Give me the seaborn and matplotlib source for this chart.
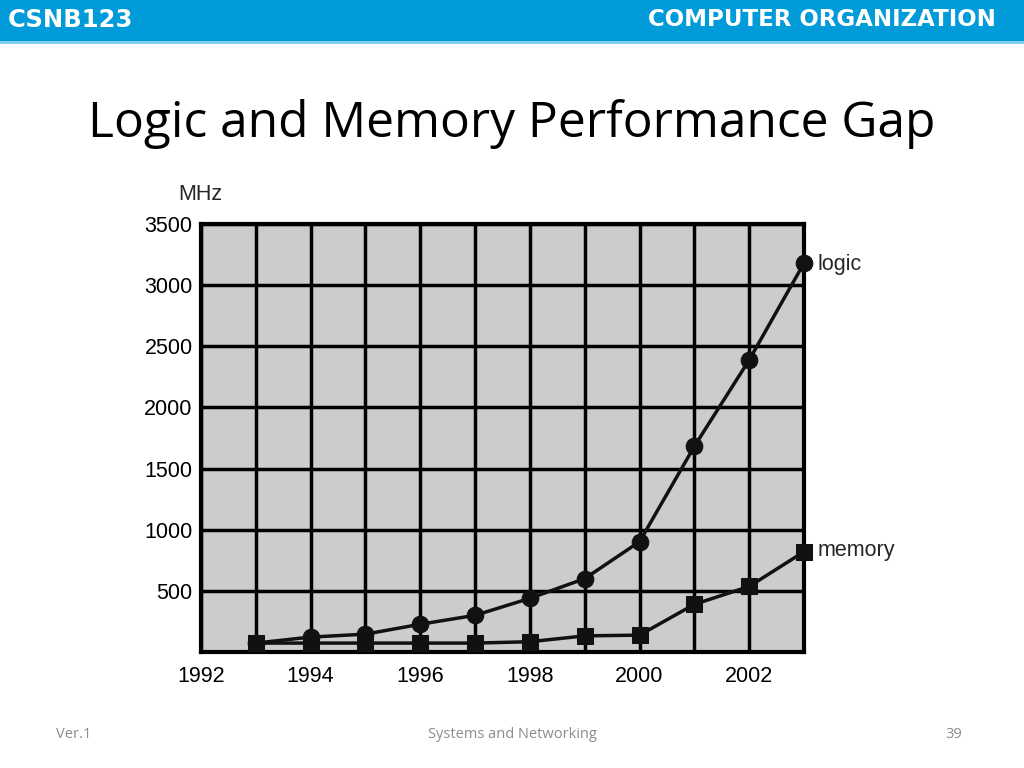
import numpy as np
import pandas as pd
import matplotlib
matplotlib.use("Agg")
import matplotlib.pyplot as plt
from matplotlib.patches import Rectangle
import seaborn as sns

# DATA
years = [1993, 1994, 1995, 1996, 1997, 1998, 1999, 2000, 2001, 2002, 2003]
logic_mhz = [73, 122, 146, 227, 300, 439, 600, 902, 1682, 2388, 3180]
memory_mhz = [73, 73, 73, 73, 73, 84, 132, 138, 390, 536, 820]
year_ticks = list(range(1992, 2004))
year_labels = [str(y) if y % 2 == 0 else "" for y in year_ticks]
mhz_ticks = [0, 500, 1000, 1500, 2000, 2500, 3000, 3500]
mhz_labels = [""] + [str(v) for v in mhz_ticks[1:]]

df = pd.DataFrame({"year": years, "logic": logic_mhz, "memory": memory_mhz})

sns.set_style("white")
plt.rcParams["font.family"] = ["Liberation Sans", "DejaVu Sans"]

fig = plt.figure(figsize=(10.24, 7.68), dpi=100)

# slide header band
fig.patches.append(Rectangle((0, 1 - 41 / 768), 1, 41 / 768, transform=fig.transFigure,
                             facecolor="#009bd8", edgecolor="none", zorder=0))
fig.patches.append(Rectangle((0, 1 - 44 / 768), 1, 3 / 768, transform=fig.transFigure,
                             facecolor="#7fcdef", edgecolor="none", zorder=0))
fig.text(8 / 1024, 1 - 20 / 768, "CSNB123", color="white", fontsize=17.5, fontweight="bold",
         family="DejaVu Sans", va="center", ha="left")
fig.text(996 / 1024, 1 - 19 / 768, "COMPUTER ORGANIZATION", color="white", fontsize=16.5,
         fontweight="bold", family="DejaVu Sans", va="center", ha="right")

fig.text(512 / 1024, 1 - 124 / 768, "Logic and Memory Performance Gap", fontsize=35.8,
         family="Open Sans", ha="center", va="center", color="black")

# footer
fig.text(56 / 1024, 1 - 734 / 768, "Ver.1", fontsize=10.5, color="#8c8c8c", family="Open Sans",
         ha="left", va="center")
fig.text(512 / 1024, 1 - 734 / 768, "Systems and Networking", fontsize=10.5, color="#8c8c8c",
         family="Open Sans", ha="center", va="center")
fig.text(962 / 1024, 1 - 734 / 768, "39", fontsize=10.5, color="#8c8c8c", family="Open Sans",
         ha="right", va="center")

ax = fig.add_axes([201 / 1024, 1 - 652 / 768, 603 / 1024, 428 / 768])
ax.set_facecolor("#cccccc")

sns.lineplot(data=df, x="year", y="logic", ax=ax, color="#111111", linewidth=2.5,
             marker="o", markersize=12, markeredgecolor="#111111", zorder=5, clip_on=False)
sns.lineplot(data=df, x="year", y="memory", ax=ax, color="#111111", linewidth=2.5,
             marker="s", markersize=11, markeredgecolor="#111111", zorder=5, clip_on=False)

ax.set_xlim(1992, 2003)
ax.set_ylim(0, 3500)
ax.set_xticks(year_ticks)
ax.set_xticklabels(year_labels)
ax.set_yticks(mhz_ticks)
ax.set_yticklabels(mhz_labels)
ax.tick_params(length=0, labelsize=15.5, colors="black")
ax.tick_params(axis="x", pad=10)
ax.tick_params(axis="y", pad=6)
ax.grid(True, color="black", linewidth=2.5)
ax.set_axisbelow(True)
for s in ax.spines.values():
    s.set_color("black")
    s.set_linewidth(3)
ax.set_xlabel("")
ax.set_ylabel("")

ax.annotate("logic", (years[-1], logic_mhz[-1]), xytext=(10, -1), textcoords="offset points",
            fontsize=15.5, va="center", ha="left", annotation_clip=False)
ax.annotate("memory", (years[-1], memory_mhz[-1]), xytext=(10, 1), textcoords="offset points",
            fontsize=15.5, va="center", ha="left", annotation_clip=False)
ax.text(21 / 603, 1.07, "MHz", transform=ax.transAxes, fontsize=15.5, ha="right", va="center")

fig.savefig("out.png", dpi=100)
